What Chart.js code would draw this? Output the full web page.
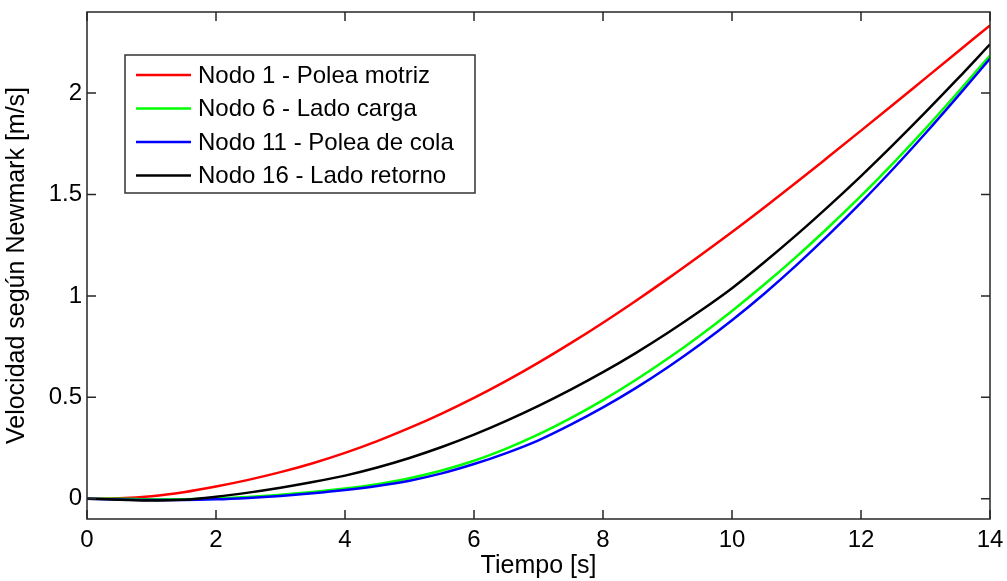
<!DOCTYPE html>
<html>
<head>
<meta charset="utf-8">
<script src="https://cdn.jsdelivr.net/npm/chart.js@4.4.1/dist/chart.umd.min.js"></script>
<style>
  html, body { margin: 0; padding: 0; background: #fff; }
  #wrap { width: 1007px; height: 581px; }
</style>
</head>
<body>
<div id="wrap"><canvas id="velChart" width="1007" height="581"></canvas></div>
<script>
// tiempo [s]
const tiempo = [0, 0.5, 1, 1.5, 2, 2.5, 3, 3.5, 4, 4.5, 5, 5.5, 6, 6.5, 7, 7.5, 8, 8.5, 9, 9.5, 10, 10.5, 11, 11.5, 12, 12.5, 13, 13.5, 14];

// velocidades [m/s]
const nodo1 = [0, 0.002, 0.012, 0.032, 0.060, 0.093, 0.131, 0.175, 0.226, 0.284, 0.349, 0.420, 0.497, 0.581, 0.671, 0.767, 0.868, 0.974, 1.084, 1.198, 1.315, 1.436, 1.560, 1.687, 1.815, 1.944, 2.074, 2.204, 2.334];
const nodo6 = [0, 0, -0.002, -0.002, 0.001, 0.008, 0.019, 0.033, 0.050, 0.072, 0.101, 0.139, 0.187, 0.247, 0.317, 0.397, 0.486, 0.584, 0.690, 0.804, 0.926, 1.056, 1.194, 1.340, 1.493, 1.655, 1.825, 2.003, 2.185];
const nodo11 = [0, -0.004, -0.006, -0.006, -0.003, 0.004, 0.014, 0.027, 0.043, 0.063, 0.089, 0.125, 0.171, 0.225, 0.288, 0.365, 0.450, 0.544, 0.647, 0.759, 0.880, 1.011, 1.152, 1.302, 1.460, 1.627, 1.802, 1.984, 2.170];
const nodo16 = [0, -0.005, -0.009, -0.005, 0.010, 0.030, 0.054, 0.082, 0.114, 0.154, 0.201, 0.255, 0.316, 0.384, 0.458, 0.538, 0.624, 0.717, 0.817, 0.924, 1.038, 1.166, 1.301, 1.443, 1.591, 1.746, 1.906, 2.071, 2.241];

const xTicks = [0, 2, 4, 6, 8, 10, 12, 14];
const yTicks = [0, 0.5, 1, 1.5, 2];

const FONT = 'Liberation Sans, Arial, sans-serif';

function pts(ys) {
    return ys.map((y, i) => ({ x: tiempo[i], y: y }));
}

function serie(label, ys, color, order) {
    return {
        label: label,
        data: pts(ys),
        borderColor: color,
        backgroundColor: color,
        borderWidth: 2.5,
        pointRadius: 0,
        cubicInterpolationMode: 'monotone',
        fill: false,
        order: order
    };
}

// marco, ticks hacia adentro y leyenda tipo MATLAB
const matlabFrame = {
    id: 'matlabFrame',
    afterDraw(chart) {
        const c = chart.ctx;
        const a = chart.chartArea;
        const xs = chart.scales.x, ys = chart.scales.y;
        const tl = 9;
        c.save();
        c.strokeStyle = '#262626';
        c.lineWidth = 1.5;
        c.strokeRect(a.left, a.top, a.right - a.left, a.bottom - a.top);
        c.beginPath();
        xTicks.forEach(v => {
            const px = xs.getPixelForValue(v);
            c.moveTo(px, a.bottom); c.lineTo(px, a.bottom - tl);
            c.moveTo(px, a.top); c.lineTo(px, a.top + tl);
        });
        yTicks.forEach(v => {
            const py = ys.getPixelForValue(v);
            c.moveTo(a.left, py); c.lineTo(a.left + tl, py);
            c.moveTo(a.right, py); c.lineTo(a.right - tl, py);
        });
        c.stroke();

        // leyenda
        const bx = 125, by = 55, bw = 350, bh = 138;
        c.fillStyle = '#fff';
        c.fillRect(bx, by, bw, bh);
        c.strokeStyle = '#333';
        c.lineWidth = 1.5;
        c.strokeRect(bx, by, bw, bh);
        c.font = '24px ' + FONT;
        c.textBaseline = 'middle';
        c.textAlign = 'left';
        chart.data.datasets.forEach((ds, i) => {
            const yy = by + 20 + i * 33.5;
            c.strokeStyle = ds.borderColor;
            c.lineWidth = 2.5;
            c.beginPath();
            c.moveTo(bx + 11, yy); c.lineTo(bx + 66, yy);
            c.stroke();
            c.fillStyle = '#000';
            c.fillText(ds.label, bx + 73, yy + 1);
        });
        c.restore();
    }
};

var ctx = document.getElementById('velChart').getContext('2d');

const velChart = new Chart(ctx, {
    type: 'line',
    data: {
        datasets: [
            serie('Nodo 1 - Polea motriz', nodo1, '#ff0000', 4),
            serie('Nodo 6 - Lado carga', nodo6, '#00ff00', 3),
            serie('Nodo 11 - Polea de cola', nodo11, '#0000ff', 2),
            serie('Nodo 16 - Lado retorno', nodo16, '#000000', 1)
        ]
    },
    options: {
        responsive: false,
        animation: false,
        layout: { padding: { top: 12, right: 17, left: 0, bottom: 0 } },
        plugins: {
            legend: { display: false },
            tooltip: { enabled: false }
        },
        scales: {
            x: {
                type: 'linear',
                min: 0,
                max: 14,
                afterBuildTicks: s => { s.ticks = xTicks.map(v => ({ value: v })); },
                afterFit: s => { s.height = 62; s.paddingLeft = 0; s.paddingRight = 0; },
                grid: { display: false, drawTicks: false },
                border: { display: false },
                ticks: {
                    padding: 7,
                    maxRotation: 0,
                    color: '#000',
                    font: { size: 24, family: FONT }
                },
                title: {
                    display: true,
                    text: 'Tiempo [s]',
                    color: '#000',
                    font: { size: 25, family: FONT },
                    padding: { top: 0, bottom: 0 }
                }
            },
            y: {
                type: 'linear',
                min: -0.1,
                max: 2.4,
                afterBuildTicks: s => { s.ticks = yTicks.map(v => ({ value: v })); },
                afterFit: s => { s.width = 87; s.paddingTop = 0; s.paddingBottom = 0; },
                grid: { display: false, drawTicks: false },
                border: { display: false },
                ticks: {
                    padding: 5,
                    color: '#000',
                    font: { size: 24, family: FONT },
                    callback: v => String(v)
                },
                title: {
                    display: true,
                    text: 'Velocidad según Newmark [m/s]',
                    color: '#000',
                    font: { size: 25, family: FONT },
                    padding: { top: 2, bottom: 0 }
                }
            }
        }
    },
    plugins: [matlabFrame]
});
</script>
</body>
</html>
